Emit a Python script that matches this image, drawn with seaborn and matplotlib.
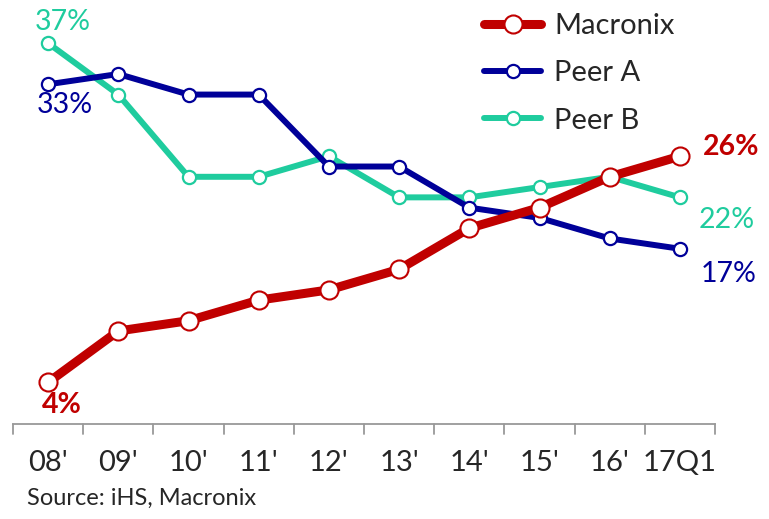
import pandas as pd
import matplotlib.pyplot as plt
import seaborn as sns

# -------------------------------
# Data (market share, %)
# -------------------------------
years = ["08'", "09'", "10'", "11'", "12'", "13'", "14'", "15'", "16'", "17Q1"]
macronix = [4, 9, 10, 12, 13, 15, 19, 21, 24, 26]
peer_a = [33, 34, 32, 32, 25, 25, 21, 20, 18, 17]
peer_b = [37, 32, 24, 24, 26, 22, 22, 23, 24, 22]

series = ["Macronix", "Peer A", "Peer B"]
colors = {"Macronix": "#C00000", "Peer A": "#000099", "Peer B": "#1FCC9E"}

df = pd.DataFrame({
    "idx": list(range(len(years))) * 3,
    "Share": macronix + peer_a + peer_b,
    "Company": [s for s in series for _ in years],
})

sns.set_style("white")
plt.rcParams["font.family"] = ["Lato", "DejaVu Sans"]

fig = plt.figure(figsize=(7.69, 5.19), dpi=100)
ax = fig.add_axes([13 / 769, 1 - 423.5 / 519, 702 / 769, 423.5 / 519])

# draw Peer B first, Macronix last (on top)
styles = {
    "Macronix": dict(lw=6.5, ms=13, mew=1.5, z=4),
    "Peer A": dict(lw=4.3, ms=9.5, mew=1.6, z=3),
    "Peer B": dict(lw=4.3, ms=9.5, mew=1.6, z=2),
}
handles = {}
for name in ["Peer B", "Peer A", "Macronix"]:
    st = styles[name]
    sub = df[df["Company"] == name]
    sns.lineplot(data=sub, x="idx", y="Share", ax=ax, color=colors[name],
                 linewidth=st["lw"], marker="o", markersize=st["ms"],
                 markerfacecolor="white", markeredgecolor=colors[name],
                 markeredgewidth=st["mew"], zorder=st["z"], label=name)
    handles[name] = ax.get_lines()[-1]

ax.set_xlim(-0.5, 9.5)
ax.set_ylim(0, 41.2)
ax.set_xlabel("")
ax.set_ylabel("")
ax.set_yticks([])
ax.set_xticks(range(len(years)))
ax.set_xticklabels(years, fontsize=21)
ax.tick_params(axis="x", length=0, pad=19)
for x in [i - 0.5 for i in range(len(years) + 1)]:
    ax.plot([x, x], [0, -1.0], color="#999999", lw=1.3, clip_on=False)

for side in ["top", "right", "left"]:
    ax.spines[side].set_visible(False)
ax.spines["bottom"].set_color("#999999")
ax.spines["bottom"].set_linewidth(1.3)

# value labels
lab = dict(fontsize=20.5, ha="center", va="center")
ax.text(0.21, 39.05, f"{peer_b[0]}%", color=colors["Peer B"], **lab)
ax.text(0.24, 31.0, f"{peer_a[0]}%", color=colors["Peer A"], **lab)
ax.text(0.2, 1.76, f"{macronix[0]}%", color=colors["Macronix"],
        fontweight="bold", **lab)
ax.text(9.73, 26.9, f"{macronix[-1]}%", color=colors["Macronix"],
        fontweight="bold", **lab)
ax.text(9.67, 19.8, f"{peer_b[-1]}%", color=colors["Peer B"], **lab)
ax.text(9.7, 14.5, f"{peer_a[-1]}%", color=colors["Peer A"], **lab)

leg = ax.legend([handles[s] for s in series], series, loc="upper left",
                bbox_to_anchor=(0.634, 1.031), frameon=False, fontsize=21,
                handlelength=1.95, labelspacing=0.73, handletextpad=0.45,
                borderpad=0.4)

fig.text(27 / 769, 1 - 498 / 519, "Source: iHS, Macronix", fontsize=17,
         ha="left", va="center")

plt.savefig("out.png", dpi=100)
